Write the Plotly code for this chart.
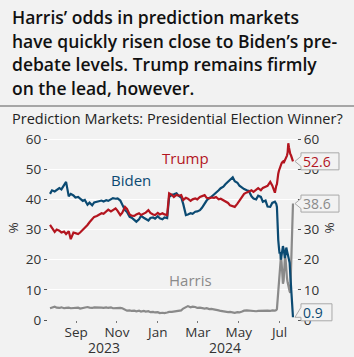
import plotly.graph_objects as go
import pandas as pd

# ---------------- data ----------------
# sampling grid: twice a week (Mon/Thu) from 2023-07-24 to 2024-06-24, then daily to 2024-07-21
mondays = pd.date_range("2023-07-24", "2024-06-24", freq="7D")
thursdays = pd.date_range("2023-07-27", "2024-06-20", freq="7D")
daily = pd.date_range("2024-06-25", "2024-07-21", freq="D")
dates = sorted(list(mondays) + list(thursdays)) + list(daily)

biden = [41.8, 43.0, 42.6, 43.2, 43.7, 43.3, 44.6, 45.8, 41.0, 41.8,
         41.3, 40.6, 40.8, 40.2, 39.5, 39.8, 38.2, 38.9, 38.0, 39.0,
         39.2, 39.4, 39.6, 39.3, 39.7, 39.5, 40.0, 40.4, 40.2, 40.3,
         39.6, 38.4, 36.4, 35.8, 34.2, 33.9, 33.2, 32.6, 33.4, 34.5,
         33.9, 33.4, 33.0, 33.8, 34.0, 33.6, 34.4, 33.7, 33.4, 34.0,
         33.8, 40.8, 41.5, 41.7, 42.0, 41.2, 40.6, 38.5, 34.8, 35.0,
         35.4, 35.2, 35.9, 36.0, 36.4, 37.2, 38.8, 39.6, 40.5, 40.8,
         41.6, 42.1, 43.0, 43.7, 44.2, 45.0, 45.8, 46.4, 47.3, 46.0,
         45.5, 44.5, 43.7, 43.4, 43.0, 42.8, 41.0, 40.3, 40.0, 41.2,
         40.8, 39.2, 39.6, 37.6, 37.5, 38.8, 39.2,
         39.0, 38.5, 37.5, 28.0, 26.5, 24.0, 22.0, 22.5, 20.0, 21.5,
         23.0, 24.5, 23.5, 21.0, 20.5, 22.0, 24.0, 23.0, 22.0, 22.0,
         21.0, 19.0, 15.0, 12.0, 10.0, 6.0, 0.9]

trump = [31.5, 30.6, 29.2, 30.0, 29.6, 29.0, 29.3, 28.5, 29.4, 26.8,
         29.0, 28.8, 28.5, 29.0, 29.8, 30.6, 31.5, 32.4, 33.5, 34.2,
         34.5, 35.0, 35.4, 35.2, 35.9, 36.6, 36.0, 36.4, 37.0, 36.2,
         34.8, 35.6, 37.5, 36.8, 35.0, 34.6, 34.5, 35.0, 35.4, 34.8,
         35.2, 35.6, 36.4, 35.5, 35.0, 34.8, 35.5, 35.0, 35.4, 35.0,
         34.8, 42.0, 41.5, 40.8, 41.5, 41.2, 41.4, 39.8, 40.5, 40.2,
         39.5, 40.0, 40.3, 40.0, 40.8, 41.0, 41.4, 40.5, 40.3, 40.6,
         40.5, 40.8, 40.0, 40.2, 39.7, 39.5, 38.8, 38.0, 37.8, 37.5,
         38.6, 39.7, 41.0, 41.8, 42.3, 42.5, 43.0, 42.5, 43.2, 43.7,
         43.0, 43.8, 44.2, 44.5, 45.8, 44.6, 42.2,
         44.0, 44.5, 45.0, 47.5, 48.5, 49.5, 50.3, 50.8, 51.5, 52.0,
         52.3, 52.5, 52.0, 52.5, 52.8, 53.2, 53.6, 54.5, 55.5, 58.6,
         57.2, 55.3, 55.0, 54.6, 54.0, 53.3, 52.6]

harris = [3.9, 4.1, 4.4, 4.1, 4.0, 4.2, 3.9, 4.0, 4.1, 3.9,
          4.0, 4.2, 4.1, 3.8, 4.0, 3.9, 4.3, 4.1, 4.0, 4.2,
          4.2, 4.3, 4.1, 4.0, 4.2, 4.0, 4.2, 3.9, 4.0, 4.0,
          4.0, 3.9, 3.4, 3.1, 3.2, 3.0, 3.1, 2.9, 3.1, 2.8,
          3.0, 2.8, 2.9, 2.6, 2.7, 2.5, 2.6, 2.3, 2.4, 2.3,
          2.5, 2.7, 2.7, 2.8, 3.0, 3.1, 3.2, 3.8, 4.3, 4.6,
          4.2, 4.4, 4.3, 4.0, 4.1, 3.9, 3.8, 3.9, 3.6, 3.7,
          3.6, 3.3, 3.2, 3.0, 2.8, 2.9, 2.6, 2.7, 2.5, 2.4,
          2.6, 2.5, 2.8, 3.1, 3.2, 3.1, 3.0, 3.1, 2.9, 3.0,
          3.1, 3.0, 3.1, 3.1, 3.0, 3.2, 3.1,
          3.1, 3.3, 3.6, 6.6, 10.0, 12.0, 16.0, 20.0, 21.0, 19.0,
          15.0, 12.0, 13.0, 18.0, 21.0, 20.0, 16.0, 14.0, 12.5, 11.0,
          10.5, 9.5, 9.0, 16.0, 23.0, 25.0, 38.6]

month_ticks = ["2023-09-01", "2023-11-01", "2024-01-01", "2024-03-01", "2024-05-01", "2024-07-01"]
month_labels = ["Sep", "Nov", "Jan", "Mar", "May", "Jul"]
year_labels = ["2023", "2024"]
year_centers = ["2023-10-12", "2024-04-11"]
y_ticks = [0, 10, 20, 30, 40, 50, 60]

series = [
    ("Trump", trump, "#b3151f", "2024-02-12", 53.8),
    ("Biden", biden, "#0b4a72", "2023-11-22", 46.5),
    ("Harris", harris, "#8a8a8a", "2024-02-19", 13.3),
]

X_RANGE = ["2023-07-21", "2024-07-27"]
Y_RANGE = [0, 61]
BG = "#f2f2f2"
FONT = "Open Sans"

fig = go.Figure()
for name, vals, color, lx, ly in [series[2], series[1], series[0]]:
    fig.add_trace(go.Scatter(x=dates, y=vals, mode="lines", name=name,
                             line=dict(color=color, width=2.2), showlegend=False,
                             hoverinfo="skip"))
# dummy trace to activate right axis
fig.add_trace(go.Scatter(x=dates[:1], y=[trump[0]], yaxis="y2", mode="lines",
                         line=dict(width=0), showlegend=False, hoverinfo="skip"))

annotations = []
shapes = []

# series labels
for name, vals, color, lx, ly in series:
    annotations.append(dict(x=lx, y=ly, xref="x", yref="y", text=name, showarrow=False,
                            font=dict(family=FONT, size=15, color=color)))

# end value boxes (anchored to last data point, converted to paper fraction so not clipped)
x0r, x1r = pd.Timestamp(X_RANGE[0]), pd.Timestamp(X_RANGE[1])
end_px = (pd.Timestamp(dates[-1]) - x0r) / (x1r - x0r)
box_specs = {"Trump": (0, 38), "Harris": (0, 38), "Biden": (5, 31)}
for name, vals, color, lx, ly in series:
    yoff, w = box_specs[name]
    h = 8.5
    end_py = (vals[-1] - Y_RANGE[0]) / (Y_RANGE[1] - Y_RANGE[0])
    path = (f"M2,0 L8,{yoff+5} L8,{yoff+h} L{w+8},{yoff+h} L{w+8},{yoff-h} "
            f"L8,{yoff-h} L8,{yoff-5} Z")
    shapes.append(dict(type="path", xref="paper", yref="paper", xsizemode="pixel",
                       ysizemode="pixel", xanchor=end_px, yanchor=end_py, path=path,
                       line=dict(color="#a9a9a9", width=1), fillcolor=BG, layer="above"))
    annotations.append(dict(x=dates[-1], y=vals[-1], xref="x", yref="y",
                            text=f"{vals[-1]:.1f}", showarrow=False, xanchor="left",
                            yanchor="middle", xshift=8, yshift=yoff,
                            font=dict(family=FONT, size=14, color=color)))

# year labels
for yl, yc in zip(year_labels, year_centers):
    annotations.append(dict(x=yc, y=0, xref="x", yref="paper", text=yl, showarrow=False,
                            yanchor="middle", yshift=-27.5,
                            font=dict(family=FONT, size=14, color="#333333")))

# title lines
title_lines = ["Harris’ odds in prediction markets",
               "have quickly risen close to Biden’s pre-",
               "debate levels. Trump remains firmly",
               "on the lead, however."]
for i, line in enumerate(title_lines):
    annotations.append(dict(x=0, y=1, xref="paper", yref="paper", text=line, showarrow=False,
                            xanchor="left", yanchor="middle", xshift=-38,
                            yshift=119 - i * 23.7,
                            font=dict(family=FONT, size=17.5, color="#111111", weight=600)))
annotations.append(dict(x=0, y=1, xref="paper", yref="paper",
                        text="Prediction Markets: Presidential Election Winner?", showarrow=False,
                        xanchor="left", yanchor="middle", xshift=-38, yshift=18,
                        font=dict(family=FONT, size=14.5, color="#222222")))

# separator line
shapes.append(dict(type="line", xref="paper", yref="paper", x0=-0.2, x1=1.3,
                   y0=(320 - 106) / 184, y1=(320 - 106) / 184,
                   line=dict(color="#8c8c8c", width=1.5)))

axis_font = dict(family=FONT, size=13.5, color="#333333")
fig.update_layout(
    width=354, height=357,
    margin=dict(l=40, r=57, t=136, b=37),
    paper_bgcolor=BG, plot_bgcolor=BG,
    showlegend=False,
    xaxis=dict(range=X_RANGE, tickvals=month_ticks, ticktext=month_labels,
               ticks="outside", ticklen=2, tickcolor="#777777", showgrid=False, zeroline=False,
               showline=False, tickfont=axis_font, ticklabelstandoff=-2),
    yaxis=dict(range=Y_RANGE, tickvals=y_ticks, ticks="outside", ticklen=3, tickcolor="#555555",
               showgrid=True, gridcolor="#ffffff", gridwidth=1, zeroline=False, showline=False,
               tickfont=axis_font, title=dict(text="%", font=axis_font, standoff=4)),
    yaxis2=dict(range=Y_RANGE, tickvals=y_ticks, overlaying="y", side="right", ticks="outside",
                ticklen=3, tickcolor="#555555", showgrid=False, zeroline=False, showline=False,
                tickfont=axis_font, title=dict(text="%", font=axis_font, standoff=6)),
    annotations=annotations,
    shapes=shapes,
)

fig.write_html("out.html")
